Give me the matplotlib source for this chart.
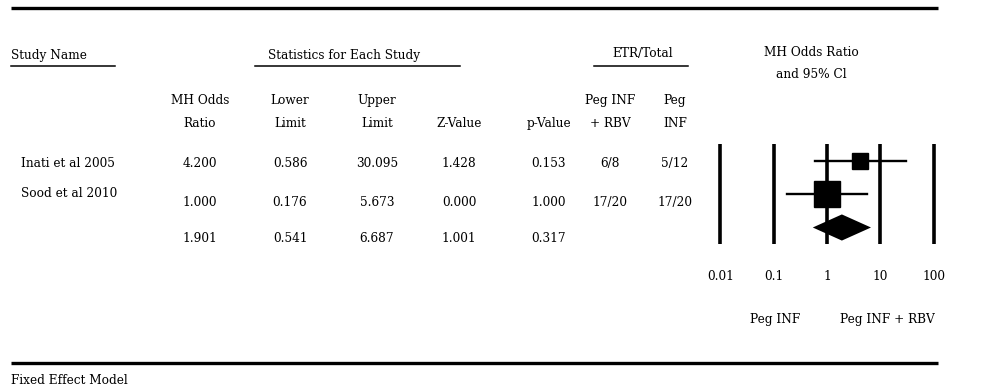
import numpy as np
import matplotlib
matplotlib.use("Agg")
import matplotlib.pyplot as plt

plt.rcParams['font.family'] = ['DejaVu Serif']

# data
studies = ["Inati et al 2005", "Sood et al 2010"]
odds_ratio = [4.200, 1.000, 1.901]
lower = [0.586, 0.176, 0.541]
upper = [30.095, 5.673, 6.687]
z_value = [1.428, 0.000, 1.001]
p_value = [0.153, 1.000, 0.317]
etr_peg_rbv = ["6/8", "17/20"]
etr_peg = ["5/12", "17/20"]
rel_weight = [0.29, 0.71]
axis_ticks = [0.01, 0.1, 1, 10, 100]
axis_tick_labels = ["0.01", "0.1", "1", "10", "100"]

fig = plt.figure(figsize=(10, 3.89), dpi=100)

# layout axes in pixel units
lay = fig.add_axes([0, 0, 1, 1])
lay.set_xlim(0, 1000)
lay.set_ylim(389, 0)
lay.axis("off")

fs = 8.7
lw_thick = 2.4
lw_thin = 1.1

lay.plot([11, 938], [8, 8], color="black", lw=lw_thick, solid_capstyle="butt")
lay.plot([11, 938], [363, 363], color="black", lw=lw_thick, solid_capstyle="butt")

# group headers
lay.text(11, 55, "Study Name", fontsize=fs, ha="left", va="center")
lay.plot([11, 115], [66, 66], color="black", lw=lw_thin)
lay.text(344, 55, "Statistics for Each Study", fontsize=fs, ha="center", va="center")
lay.plot([255, 460], [66, 66], color="black", lw=lw_thin)
lay.text(643, 53, "ETR/Total", fontsize=fs, ha="center", va="center")
lay.plot([594, 688], [66, 66], color="black", lw=lw_thin)
lay.text(811, 52, "MH Odds Ratio", fontsize=fs, ha="center", va="center")
lay.text(811, 74, "and 95% Cl", fontsize=fs, ha="center", va="center")

# column headers
col_x = [200, 290, 377, 459, 549, 610, 675]
hdr1 = ["MH Odds", "Lower", "Upper", "", "", "Peg INF", "Peg"]
hdr2 = ["Ratio", "Limit", "Limit", "Z-Value", "p-Value", "+ RBV", "INF"]
for x, a, b in zip(col_x, hdr1, hdr2):
    lay.text(x, 100, a, fontsize=fs, ha="center", va="center")
    lay.text(x, 123, b, fontsize=fs, ha="center", va="center")

# table rows
row_y = [163, 202, 238]
name_y = [163, 193]
for i, name in enumerate(studies):
    lay.text(21, name_y[i], name, fontsize=fs, ha="left", va="center")
for i in range(3):
    vals = ["%.3f" % odds_ratio[i], "%.3f" % lower[i], "%.3f" % upper[i],
            "%.3f" % z_value[i], "%.3f" % p_value[i]]
    if i < 2:
        vals += [etr_peg_rbv[i], etr_peg[i]]
    for x, v in zip(col_x, vals):
        lay.text(x, row_y[i], v, fontsize=fs, ha="center", va="center")

lay.text(775, 319, "Peg INF", fontsize=fs, ha="center", va="center")
lay.text(887, 319, "Peg INF + RBV", fontsize=fs, ha="center", va="center")
lay.text(11, 380, "Fixed Effect Model", fontsize=fs, ha="left", va="center")

# forest plot axes (log scale); 1 at x=827px, 53.3 px per decade
px_dec = 53.3
x0, x1 = 700, 960
ax = fig.add_axes([x0 / 1000, 1 - 261 / 389, (x1 - x0) / 1000, 134 / 389])
ax.set_xscale("log")
ax.set_xlim(10 ** ((x0 - 827) / px_dec), 10 ** ((x1 - 827) / px_dec))
ax.set_ylim(3.0, -1.0)
for s in ax.spines.values():
    s.set_visible(False)
ax.set_yticks([])
ax.minorticks_off()
ax.set_xticks(axis_ticks)
ax.set_xticklabels(axis_tick_labels, fontsize=fs)
ax.tick_params(axis="x", length=0, pad=6.5)
ax.patch.set_visible(False)

ax.vlines(axis_ticks, -0.48, 2.48, color="black", lw=2.6)

base = 29.7 * 72 / 100
for i in range(2):
    ax.plot([lower[i], upper[i]], [i, i], color="black", lw=1.7)
    ax.plot(odds_ratio[i], i, marker="s", color="black",
            markersize=base * np.sqrt(rel_weight[i]), linestyle="none")

ax.fill([lower[2], odds_ratio[2], upper[2], odds_ratio[2]],
        [2, 2 - 0.39, 2, 2 + 0.39], color="black", lw=0)

fig.savefig("out.png", dpi=100)
